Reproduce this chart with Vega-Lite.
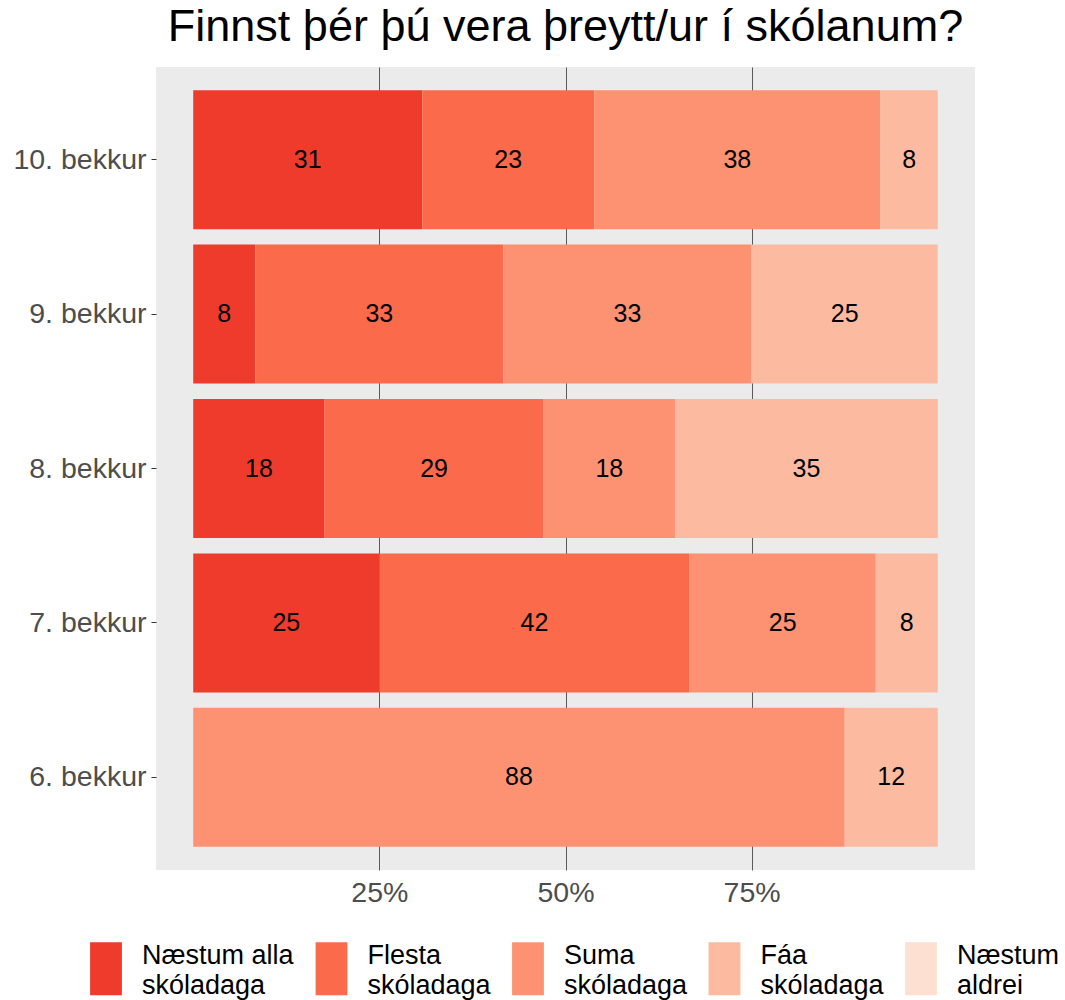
{
  "$schema": "https://vega.github.io/schema/vega-lite/v6.json",
  "autosize": {"type": "none"},
  "padding": {"left": 156, "top": 67, "right": 90, "bottom": 130},
  "width": 819,
  "height": 803,
  "background": "white",
  "title": {
    "text": "Finnst þér þú vera þreytt/ur í skólanum?",
    "font": "Liberation Sans",
    "fontSize": 45,
    "fontWeight": "normal",
    "color": "#000000",
    "anchor": "middle",
    "baseline": "alphabetic",
    "offset": -19
  },
  "config": {
    "view": {"fill": "#EBEBEB", "stroke": null},
    "font": "Liberation Sans"
  },
  "data": {
    "values": [
      {"g": "10. bekkur", "cat": "Næstum alla skóladaga", "k": 1, "pct": 30.77, "label": 31},
      {"g": "10. bekkur", "cat": "Flesta skóladaga", "k": 2, "pct": 23.08, "label": 23},
      {"g": "10. bekkur", "cat": "Suma skóladaga", "k": 3, "pct": 38.46, "label": 38},
      {"g": "10. bekkur", "cat": "Fáa skóladaga", "k": 4, "pct": 7.69, "label": 8},
      {"g": "9. bekkur", "cat": "Næstum alla skóladaga", "k": 1, "pct": 8.33, "label": 8},
      {"g": "9. bekkur", "cat": "Flesta skóladaga", "k": 2, "pct": 33.33, "label": 33},
      {"g": "9. bekkur", "cat": "Suma skóladaga", "k": 3, "pct": 33.33, "label": 33},
      {"g": "9. bekkur", "cat": "Fáa skóladaga", "k": 4, "pct": 25.0, "label": 25},
      {"g": "8. bekkur", "cat": "Næstum alla skóladaga", "k": 1, "pct": 17.65, "label": 18},
      {"g": "8. bekkur", "cat": "Flesta skóladaga", "k": 2, "pct": 29.41, "label": 29},
      {"g": "8. bekkur", "cat": "Suma skóladaga", "k": 3, "pct": 17.65, "label": 18},
      {"g": "8. bekkur", "cat": "Fáa skóladaga", "k": 4, "pct": 35.29, "label": 35},
      {"g": "7. bekkur", "cat": "Næstum alla skóladaga", "k": 1, "pct": 25.0, "label": 25},
      {"g": "7. bekkur", "cat": "Flesta skóladaga", "k": 2, "pct": 41.67, "label": 42},
      {"g": "7. bekkur", "cat": "Suma skóladaga", "k": 3, "pct": 25.0, "label": 25},
      {"g": "7. bekkur", "cat": "Fáa skóladaga", "k": 4, "pct": 8.33, "label": 8},
      {"g": "6. bekkur", "cat": "Suma skóladaga", "k": 3, "pct": 87.5, "label": 88},
      {"g": "6. bekkur", "cat": "Fáa skóladaga", "k": 4, "pct": 12.5, "label": 12}
    ]
  },
  "encoding": {
    "y": {
      "field": "g",
      "type": "nominal",
      "scale": {
        "domain": ["10. bekkur", "9. bekkur", "8. bekkur", "7. bekkur", "6. bekkur"],
        "paddingInner": 0.1,
        "paddingOuter": 0.15
      },
      "axis": {
        "title": null,
        "domain": false,
        "grid": false,
        "ticks": true,
        "tickSize": 5,
        "tickColor": "#333333",
        "tickWidth": 1,
        "labelPadding": 5,
        "labelFontSize": 28.5,
        "labelColor": "#4D4D4D",
        "labelFont": "Liberation Sans"
      }
    }
  },
  "layer": [
    {
      "mark": {"type": "bar", "strokeWidth": 0},
      "encoding": {
        "x": {
          "field": "pct",
          "type": "quantitative",
          "stack": "zero",
          "scale": {"domain": [-5, 105], "nice": false, "zero": false},
          "axis": {
            "title": null,
            "values": [25, 50, 75],
            "labelExpr": "datum.value + '%'",
            "domain": false,
            "ticks": false,
            "grid": true,
            "gridColor": "#5A5A5A",
            "gridWidth": 1,
            "labelPadding": 8,
            "labelFontSize": 28.5,
            "labelColor": "#4D4D4D",
            "labelFont": "Liberation Sans"
          }
        },
        "color": {
          "field": "cat",
          "type": "nominal",
          "scale": {
            "domain": ["Næstum alla skóladaga", "Flesta skóladaga", "Suma skóladaga", "Fáa skóladaga", "Næstum aldrei"],
            "range": ["#EF3B2C", "#FB6A4A", "#FC9272", "#FCBBA1", "#FEE0D2"]
          },
          "legend": {
            "title": null,
            "orient": "none",
            "direction": "horizontal",
            "legendX": -76.5,
            "legendY": 875,
            "padding": 0,
            "symbolType": "M-0.6,-1H0.6V1H-0.6Z",
            "symbolSize": 2809,
            "symbolStrokeWidth": 0,
            "symbolOpacity": 1,
            "labelFontSize": 27,
            "labelFont": "Liberation Sans",
            "labelColor": "#000000",
            "labelOffset": 9.5,
            "labelLimit": 400,
            "labelBaseline": "alphabetic",
            "columnPadding": 10.5,
            "labelExpr": "indexof(datum.label, ' skóladaga') > 0 ? [replace(datum.label, ' skóladaga', ''), 'skóladaga'] : split(datum.label, ' ')",
            "encode": {
              "labels": {
                "update": {
                  "dy": {"value": -5},
                  "lineHeight": {"value": 30}
                }
              }
            }
          }
        },
        "order": {"field": "k", "type": "quantitative"}
      }
    },
    {
      "mark": {"type": "text", "fontSize": 25, "color": "#000000", "font": "Liberation Sans", "baseline": "middle", "align": "center"},
      "encoding": {
        "x": {"field": "pct", "type": "quantitative", "stack": "zero", "bandPosition": 0.5},
        "detail": {"field": "cat", "type": "nominal"},
        "order": {"field": "k", "type": "quantitative"},
        "text": {"field": "label", "type": "quantitative"}
      }
    }
  ]
}
